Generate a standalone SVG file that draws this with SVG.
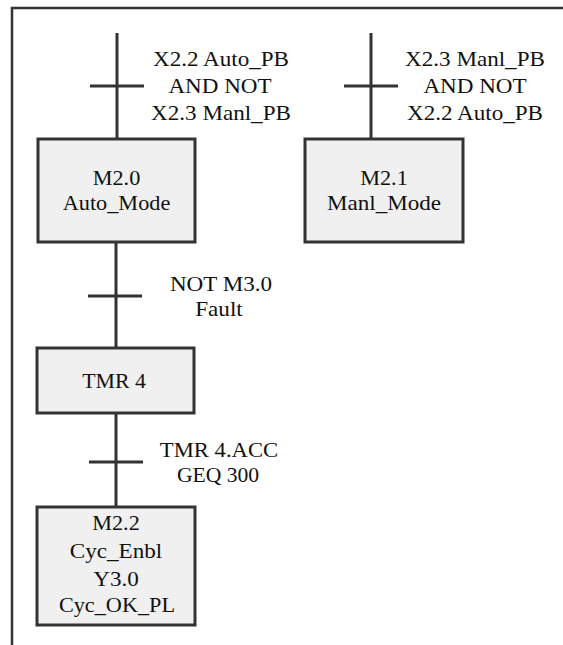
<svg xmlns="http://www.w3.org/2000/svg" width="563" height="645" viewBox="0 0 563 645">
<style>
.ln{stroke:#333;stroke-width:3;fill:none}
.fr{stroke:#333;stroke-width:2.5;fill:none}
.bx{fill:#f0f0f0;stroke:#333;stroke-width:3}
</style>
<rect width="563" height="645" fill="#fff"/>
<g id="frame"><path class="fr" d="M12,645 V8 H563"/></g>
<g id="connectors">
<path class="ln" d="M117,33 V139 M90,86 H144"/>
<path class="ln" d="M371,33 V139 M344,86 H398"/>
<path class="ln" d="M116,242 V348 M88,296 H142"/>
<path class="ln" d="M116,413 V507 M89,462 H143"/>
</g>
<g font-family="Liberation Serif, Times New Roman, serif" font-size="21" fill="#111" text-anchor="middle">
<g id="t1">
<text transform="translate(221,66) scale(1.1,1)">X2.2 Auto_PB</text>
<text transform="translate(220,93) scale(1.1,1)">AND NOT</text>
<text transform="translate(221,120) scale(1.1,1)">X2.3 Manl_PB</text>
</g>
<g id="t2">
<text transform="translate(475,66) scale(1.1,1)">X2.3 Manl_PB</text>
<text transform="translate(475,93) scale(1.1,1)">AND NOT</text>
<text transform="translate(475,120) scale(1.1,1)">X2.2 Auto_PB</text>
</g>
<g id="M2.0">
<rect class="bx" x="38" y="139" width="157" height="103"/>
<text transform="translate(116.5,185) scale(1.06,1)">M2.0</text>
<text transform="translate(116.5,210) scale(1.06,1)">Auto_Mode</text>
</g>
<g id="M2.1">
<rect class="bx" x="305" y="139" width="158" height="103"/>
<text transform="translate(384,185) scale(1.06,1)">M2.1</text>
<text transform="translate(384,210) scale(1.1,1)">Manl_Mode</text>
</g>
<g id="t3">
<text transform="translate(221,291) scale(1.1,1)">NOT M3.0</text>
<text transform="translate(219,316) scale(1.1,1)">Fault</text>
</g>
<g id="TMR4">
<rect class="bx" x="37" y="348" width="157" height="65"/>
<text transform="translate(114,388) scale(1.04,1)">TMR 4</text>
</g>
<g id="t4">
<text transform="translate(219,457) scale(1.08,1)">TMR 4.ACC</text>
<text transform="translate(218,482) scale(1.03,1)">GEQ 300</text>
</g>
<g id="M2.2">
<rect class="bx" x="37" y="507" width="158" height="118"/>
<text transform="translate(116,530) scale(1.06,1)">M2.2</text>
<text transform="translate(116,558) scale(1.1,1)">Cyc_Enbl</text>
<text transform="translate(116,586) scale(1.1,1)">Y3.0</text>
<text transform="translate(117,612) scale(1.06,1)">Cyc_OK_PL</text>
</g>
</g>
</svg>
